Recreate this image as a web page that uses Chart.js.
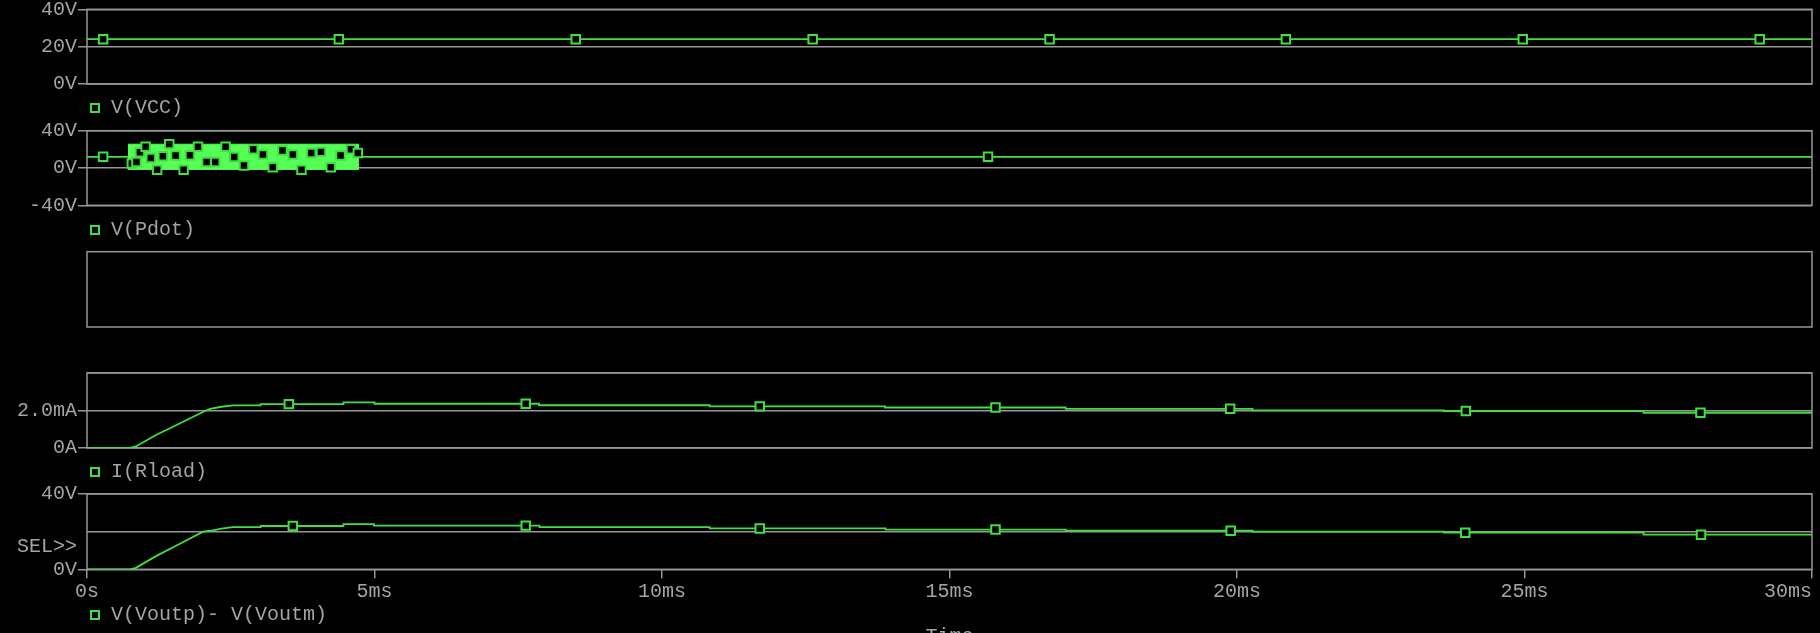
<!DOCTYPE html>
<html>
<head>
<meta charset="utf-8">
<script src="https://cdn.jsdelivr.net/npm/chart.js@4.4.1/dist/chart.umd.min.js"></script>
<style>
  html, body { margin: 0; padding: 0; background: #000; overflow: hidden; }
  body { width: 1820px; height: 633px; position: relative; font-family: "Liberation Mono", "DejaVu Sans Mono", monospace; }
  canvas { position: absolute; left: 0; }
  .legend { position: absolute; left: 90px; height: 20px; display: flex; align-items: center;
            color: #a4a4a4; font-size: 20px; white-space: pre; }
  .legend i { display: inline-block; width: 6px; height: 6px; border: 2px solid #3fe03f; margin-right: 11px; margin-top: 1px; }
</style>
</head>
<body>
<canvas id="p1" width="1820" height="105" style="top:-6px"></canvas>
<canvas id="p2" width="1820" height="106" style="top:115px"></canvas>
<canvas id="p3" width="1820" height="106" style="top:236px"></canvas>
<canvas id="p4" width="1820" height="105" style="top:358px"></canvas>
<canvas id="p5" width="1820" height="170" style="top:479px"></canvas>
<script>
// time axis in ms
const timeTicks = [0, 5, 10, 15, 20, 25, 30];
const timeTickLabels = ['0s', '5ms', '10ms', '15ms', '20ms', '25ms', '30ms'];

// V(VCC)
const vccTime = [0, 30];
const vccVolts = [24, 24];
const vccMarkTime = [0.28, 4.38, 8.50, 12.62, 16.74, 20.85, 24.97, 29.09];
const vccMarkVolts = [24, 24, 24, 24, 24, 24, 24, 24];
const vccTicks = [0, 20, 40];
const vccTickLabels = ['0V', '20V', '40V'];

// V(Pdot): 12V idle, switching burst between ~0V and ~25V
const pdotTime = [0, 30];
const pdotVolts = [12, 12];
const pdotBurstTime = [0.71, 4.73];
const pdotBurstHigh = [25.5, 25.5];
const pdotBurstLow = [-1.5, -1.5];
const pdotMarkTime = [0.28, 0.78, 0.86, 0.92, 1.02, 1.11, 1.22, 1.32, 1.43, 1.54, 1.68, 1.79, 1.93, 2.08, 2.23, 2.41,
  2.56, 2.73, 2.89, 3.06, 3.23, 3.40, 3.58, 3.73, 3.90, 4.07, 4.24, 4.41, 4.59, 4.71, 15.67];
const pdotMarkVolts = [12, 4.8, 6.5, 17.0, 22.7, 10.8, -1.8, 12.6, 25.6, 13.4, -1.8, 13.7, 22.7, 6.5, 6.5, 22.7,
  11.9, 2.6, 20.2, 14.5, 0.8, 18.8, 14.5, -1.8, 16.2, 17.3, 0.8, 13.4, 20.2, 16.2, 12];
const pdotTicks = [-40, 0, 40];
const pdotTickLabels = ['-40V', '0V', '40V'];

// I(Rload) in mA
const iTime = [0, 0.74, 0.85, 1.2, 1.6, 2.07, 2.14, 2.34, 2.54, 3.02, 3.02, 4.46, 4.46, 5.00, 5.00, 7.86, 7.86,
  10.83, 10.83, 13.88, 13.88, 17.02, 17.02, 20.27, 20.27, 23.60, 23.60, 27.07, 27.07, 30];
const iLoad = [0, 0, 0.08, 0.69, 1.29, 2.0, 2.09, 2.20, 2.27, 2.27, 2.34, 2.34, 2.43, 2.43, 2.36, 2.36, 2.28,
  2.28, 2.22, 2.22, 2.16, 2.16, 2.09, 2.09, 2.01, 2.01, 1.97, 1.97, 1.88, 1.88];
const iMarkTime = [3.51, 7.63, 11.70, 15.80, 19.88, 23.98, 28.06];
const iMarkLoad = [2.34, 2.36, 2.22, 2.16, 2.09, 1.97, 1.88];
const iTicks = [0, 2, 4];
const iTickLabels = ['0A', '2.0mA', ''];

// V(Voutp)- V(Voutm)
const voTime = [0, 0.75, 0.85, 1.2, 1.6, 2.02, 2.19, 2.34, 2.53, 3.02, 3.02, 4.46, 4.46, 4.99, 4.99, 7.87, 7.87,
  10.83, 10.83, 13.89, 13.89, 17.02, 17.02, 20.27, 20.27, 23.60, 23.60, 27.07, 27.07, 30];
const voVolts = [0, 0, 0.8, 7.0, 13.3, 20.0, 20.7, 21.6, 22.4, 22.4, 23.0, 23.0, 24.0, 24.0, 23.2, 23.2, 22.4,
  22.4, 21.7, 21.7, 21.1, 21.1, 20.5, 20.5, 20.0, 20.0, 19.45, 19.45, 18.4, 18.4];
const voMarkTime = [3.58, 7.63, 11.70, 15.80, 19.89, 23.97, 28.07];
const voMarkVolts = [23.0, 23.2, 21.7, 21.1, 20.5, 19.45, 18.4];
const voTicks = [0, 12, 20, 40];
const voTickLabels = ['0V', 'SEL>>', '', '40V'];

const seriesNames = ['V(VCC)', 'V(Pdot)', 'I(Rload)', 'V(Voutp)- V(Voutm)'];
const legendTops = [97, 219, 461, 604];

const GREEN = '#3fe03f';
const BAND = '#55ff55';
const GRID = '#979797';
const TEXT = '#a4a4a4';
const FONT = { family: '"Liberation Mono", "DejaVu Sans Mono", monospace', size: 20 };

function pts(xs, ys) { return xs.map((x, i) => ({ x: x, y: ys[i] })); }

function trace(xs, ys) {
  return { data: pts(xs, ys), borderColor: GREEN, borderWidth: 1.8, pointRadius: 0, fill: false, order: 2 };
}
function marks(xs, ys) {
  return { data: pts(xs, ys), showLine: false, pointStyle: 'rect', pointRadius: 6, pointBorderWidth: 2,
           pointBorderColor: GREEN, pointBackgroundColor: '#000', order: 0 };
}

// box round each plot area
const frame = {
  id: 'frame',
  beforeDatasetsDraw(chart) {
    const { ctx, chartArea: a } = chart;
    ctx.save();
    ctx.strokeStyle = GRID;
    ctx.lineWidth = 1.5;
    ctx.strokeRect(a.left, a.top, a.right - a.left, a.bottom - a.top);
    ctx.restore();
  }
};

function yScale(min, max, ticks, labels, hide) {
  if (!ticks) {
    return { min: min, max: max, ticks: { display: false }, grid: { display: false }, border: { display: false },
             afterFit: s => { s.width = 87; } };
  }
  return {
    min: min, max: max,
    afterBuildTicks: s => { s.ticks = ticks.map(v => ({ value: v })); },
    ticks: { callback: (v, i) => labels[i], color: TEXT, font: FONT, padding: 1, autoSkip: false },
    grid: {
      color: c => (hide || []).includes(c.tick.value) ? 'transparent' : GRID,
      tickColor: c => labels[c.index] && !(hide || []).includes(c.tick.value) ? GRID : 'transparent',
      tickLength: 9, lineWidth: 1.5
    },
    border: { display: false },
    afterFit: s => { s.width = 87; }
  };
}

function xScale(bottom) {
  if (!bottom) return { type: 'linear', min: 0, max: 30, display: false };
  const last = timeTicks.length - 1;
  return {
    type: 'linear', min: 0, max: 30,
    afterBuildTicks: s => { s.ticks = timeTicks.map(v => ({ value: v })); },
    // last label sits flush against the right edge, the others are centred on their tick
    ticks: { callback: (v, i) => i === last ? timeTickLabels[i] + ' '.repeat(timeTickLabels[i].length) : timeTickLabels[i],
             color: TEXT, font: FONT, padding: 1, maxRotation: 0, autoSkip: false },
    grid: { drawOnChartArea: false, tickLength: 9, color: GRID, lineWidth: 1.5 },
    border: { display: false },
    title: { display: true, text: 'Time', color: TEXT, font: FONT, padding: 0 },
    afterFit: s => { s.height = 79.7; s.paddingLeft = 0; s.paddingRight = 0; }
  };
}

function panel(id, padTop, padBottom, y, datasets, bottom) {
  return new Chart(document.getElementById(id), {
    type: 'line',
    data: { datasets: datasets },
    options: {
      responsive: false, animation: false, devicePixelRatio: 1,
      layout: { padding: { left: 0, right: 8, top: padTop, bottom: padBottom } },
      plugins: { legend: { display: false }, tooltip: { enabled: false } },
      scales: { x: xScale(bottom), y: y }
    },
    plugins: [frame]
  });
}

panel('p1', 15.3, 15, yScale(0, 40, vccTicks, vccTickLabels),
  [marks(vccMarkTime, vccMarkVolts), trace(vccTime, vccVolts)]);

panel('p2', 15.7, 15.7, yScale(-40, 40, pdotTicks, pdotTickLabels), [
  marks(pdotMarkTime, pdotMarkVolts),
  trace(pdotTime, pdotVolts),
  { data: pts(pdotBurstTime, pdotBurstHigh), borderColor: BAND, borderWidth: 1, backgroundColor: BAND,
    pointRadius: 0, fill: '+1', order: 1 },
  { data: pts(pdotBurstTime, pdotBurstLow), borderColor: BAND, borderWidth: 1, pointRadius: 0, fill: false, order: 1 }
]);

panel('p3', 15.7, 15, yScale(0, 1), []);

panel('p4', 15, 15, yScale(0, 4, iTicks, iTickLabels),
  [marks(iMarkTime, iMarkLoad), trace(iTime, iLoad)]);

panel('p5', 15, 0, yScale(0, 40, voTicks, voTickLabels, [12]),
  [marks(voMarkTime, voMarkVolts), trace(voTime, voVolts)], true);

seriesNames.forEach((name, i) => {
  const d = document.createElement('div');
  d.className = 'legend';
  d.style.top = legendTops[i] + 'px';
  d.innerHTML = '<i></i>';
  d.appendChild(document.createTextNode(name));
  document.body.appendChild(d);
});
</script>
</body>
</html>
